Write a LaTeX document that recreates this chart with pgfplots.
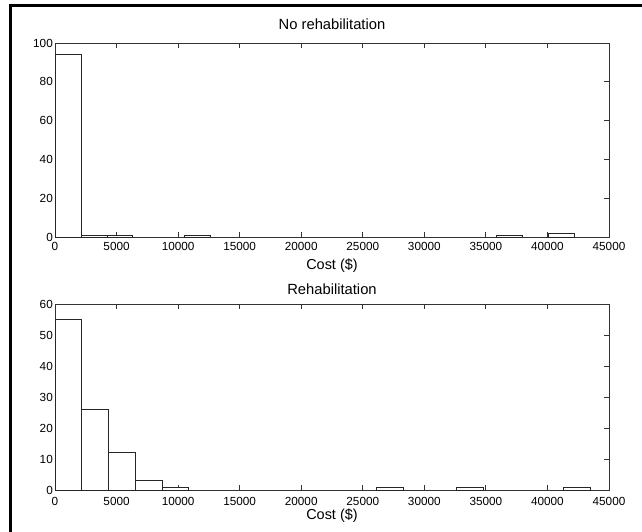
\documentclass[border=0pt]{standalone}
\usepackage{pgfplots}
\pgfplotsset{compat=1.18}
\usepackage{fontspec}
\setmainfont{Liberation Sans}

\pgfplotsset{
  mstyle/.style={
    width=554bp, scale only axis,
    xmin=0, xmax=45000, ymin=0,
    xtick={0,5000,...,45000},
    scaled x ticks=false, scaled y ticks=false,
    /pgf/number format/1000 sep={},
    /pgf/number format/assume math mode=true,
    tick align=inside, tick pos=both, major tick length=5bp,
    axis line style={black!80, line width=0.8bp},
    every tick/.style={black!80, line width=0.8bp},
    ticklabel style={font=\fontsize{11.8}{11.8}\selectfont},
    yticklabel style={anchor=east, inner sep=0pt, xshift=-2bp},
    title style={anchor=base, inner sep=0pt, font=\fontsize{14.8}{14.8}\selectfont, at={(axis description cs:0.5,1)}},
    xlabel style={anchor=base, inner sep=0pt, font=\fontsize{14.5}{14.5}\selectfont, at={(axis description cs:0.5,0)}},
    xlabel={Cost (\$)},
  },
  hbar/.style={ybar interval, fill=white, draw=black!85, line width=0.8bp},
}

\begin{document}
\begin{tikzpicture}
\path[use as bounding box] (0,0) rectangle (642bp,-532bp);
\draw[line width=2.5bp, black] (10.5bp,-532bp) -- (10.5bp,-5.5bp) -- (642bp,-5.5bp);

\begin{axis}[mstyle,
  at={(55bp,-237bp)}, anchor=south west,
  height=194bp, ymax=100, ytick={0,20,...,100},
  title={No rehabilitation},
  title style={yshift=8bp},
  xticklabel style={anchor=base, inner sep=0pt, yshift=-13.5bp},
  xlabel style={yshift=-32bp},
]
\addplot[hbar] coordinates {
(0,94) (2108,1) (4216,1) (6324,0) (8432,0) (10540,1) (12648,0) (14756,0)
(16864,0) (18972,0) (21080,0) (23188,0) (25296,0) (27404,0) (29512,0)
(31620,0) (33728,0) (35836,1) (37944,0) (40052,2) (42160,2)
};
\end{axis}

\begin{axis}[mstyle,
  at={(55bp,-490bp)}, anchor=south west,
  height=186bp, ymax=60, ytick={0,10,...,60},
  title={Rehabilitation},
  title style={yshift=4bp},
  xticklabel style={anchor=base, inner sep=0pt, yshift=-15bp},
  xlabel style={yshift=-29bp},
]
\addplot[hbar] coordinates {
(0,55) (2175,26) (4350,12) (6525,3) (8700,1) (10875,0) (13050,0) (15225,0)
(17400,0) (19575,0) (21750,0) (23925,0) (26100,1) (28275,0) (30450,0)
(32625,1) (34800,0) (36975,0) (39150,0) (41325,1) (43500,1)
};
\end{axis}
\end{tikzpicture}
\end{document}
